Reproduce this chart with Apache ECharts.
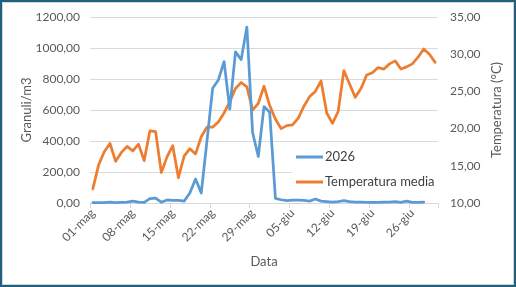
<!DOCTYPE html>
<html>
<head>
<meta charset="utf-8">
<script src="https://cdn.jsdelivr.net/npm/echarts@6/dist/echarts.min.js"></script>
<style>
html,body{margin:0;padding:0;background:#fff;}
#wrap{position:relative;width:516px;height:287px;}
#chart{position:absolute;left:0;top:0;width:516px;height:287px;}
#frame{position:absolute;left:0;top:0;width:516px;height:287px;box-sizing:border-box;border:2px solid #1F5F80;pointer-events:none;}
#frame2{position:absolute;left:2px;top:2px;width:512px;height:283px;box-sizing:border-box;border:1px solid #D4D4D4;pointer-events:none;}
</style>
</head>
<body>
<div id="wrap"><div id="chart"></div><div id="frame"></div><div id="frame2"></div></div>
<script>
// Categories: 01-mag .. 30-giu
const categories = [];
for (let d = 1; d <= 31; d++) categories.push((d < 10 ? '0' + d : '' + d) + '-mag');
for (let d = 1; d <= 30; d++) categories.push((d < 10 ? '0' + d : '' + d) + '-giu');

const seriesNames = ['2026', 'Temperatura media'];

const pollen2026 = [
  2, 2, 3, 5, 3, 4, 5, 12, 6, 4,
  28, 32, 5, 20, 17, 17, 12, 64, 155, 64,
  400, 740, 794, 912, 605, 975, 925, 1135, 455, 300,
  622, 585, 30, 21, 15, 19, 19, 17, 12, 26,
  12, 9, 6, 9, 15, 9, 6, 6, 4, 4,
  4, 6, 6, 9, 4, 12, 4, 4, 6, null,
  null
];

const tempMedia = [
  11.9, 15.1, 16.9, 18.0, 15.6, 16.8, 17.6, 17.0, 17.9, 15.7,
  19.7, 19.6, 14.1, 16.2, 17.7, 13.4, 16.3, 17.3, 16.6, 18.9,
  20.2, 20.2, 20.9, 22.1, 23.6, 25.4, 26.2, 25.6, 22.5, 23.4,
  25.7, 23.1, 21.3, 20.0, 20.4, 20.5, 21.4, 23.0, 24.3, 25.0,
  26.4, 22.1, 20.7, 22.3, 27.8, 26.0, 24.2, 25.4, 27.2, 27.5,
  28.2, 28.0, 28.7, 29.1, 28.0, 28.3, 28.7, 29.6, 30.7, 30.0,
  28.9
];

const leftTicks = { min: 0, max: 1200, interval: 200 };
const rightTicks = { min: 10, max: 35, interval: 5 };

const FONT = 'Lato, "Open Sans", sans-serif';
const fmt = v => v.toFixed(2).replace('.', ',');

const chart = echarts.init(document.getElementById('chart'), null, { renderer: 'canvas' });
chart.setOption({
  animation: false,
  backgroundColor: '#ffffff',
  textStyle: { fontFamily: FONT },
  grid: { left: 90, right: 78, top: 17, bottom: 84, containLabel: false },
  legend: {
    orient: 'vertical',
    left: 292,
    top: 147,
    padding: [3, 4, 3, 4],
    backgroundColor: '#ffffff',
    icon: 'rect',
    itemWidth: 27,
    itemHeight: 3,
    itemGap: 11,
    textStyle: { fontFamily: FONT, fontSize: 13, lineHeight: 14, color: '#404040', padding: [0, 0, 0, -3] },
    data: [
      { name: seriesNames[0], itemStyle: { color: '#5B9BD5' } },
      { name: seriesNames[1], itemStyle: { color: '#ED7D31' } }
    ]
  },
  xAxis: {
    type: 'category',
    data: categories,
    boundaryGap: true,
    name: 'Data',
    nameLocation: 'middle',
    nameGap: 52,
    nameMoveOverlap: false,
    nameTextStyle: { fontFamily: FONT, fontSize: 13, color: '#595959' },
    axisLine: { lineStyle: { color: '#D9D9D9', width: 1 } },
    axisTick: { show: true, interval: 6, length: 5, lineStyle: { color: '#D9D9D9' } },
    axisLabel: { interval: 6, rotate: 45, margin: 8, fontFamily: FONT, fontSize: 12, color: '#595959' },
    splitLine: { show: false }
  },
  yAxis: [
    {
      type: 'value',
      min: leftTicks.min, max: leftTicks.max, interval: leftTicks.interval,
      name: 'Granuli/m3',
      nameLocation: 'middle',
      nameRotate: 90,
      nameGap: 57,
      nameMoveOverlap: false,
      nameTextStyle: { fontFamily: FONT, fontSize: 13, color: '#595959' },
      axisLine: { show: false },
      axisTick: { show: false },
      axisLabel: { formatter: fmt, margin: 10, fontFamily: FONT, fontSize: 12, color: '#595959' },
      splitLine: { lineStyle: { color: '#D9D9D9', width: 1 } }
    },
    {
      type: 'value',
      position: 'right',
      min: rightTicks.min, max: rightTicks.max, interval: rightTicks.interval,
      name: 'Temperatura (°C)',
      nameLocation: 'middle',
      nameRotate: 90,
      nameGap: 52,
      nameMoveOverlap: false,
      nameTextStyle: { fontFamily: FONT, fontSize: 13, color: '#595959' },
      axisLine: { show: false },
      axisTick: { show: false },
      axisLabel: { formatter: fmt, margin: 12, fontFamily: FONT, fontSize: 12, color: '#595959' },
      splitLine: { show: false }
    }
  ],
  series: [
    {
      name: seriesNames[1],
      type: 'line',
      yAxisIndex: 1,
      data: tempMedia,
      symbol: 'none',
      smooth: false,
      z: 2,
      lineStyle: { color: '#ED7D31', width: 2.75, join: 'round', cap: 'round' },
      itemStyle: { color: '#ED7D31' }
    },
    {
      name: seriesNames[0],
      type: 'line',
      yAxisIndex: 0,
      data: pollen2026,
      symbol: 'none',
      smooth: false,
      z: 3,
      lineStyle: { color: '#5B9BD5', width: 2.75, join: 'round', cap: 'round' },
      itemStyle: { color: '#5B9BD5' }
    }
  ]
});
</script>
</body>
</html>
